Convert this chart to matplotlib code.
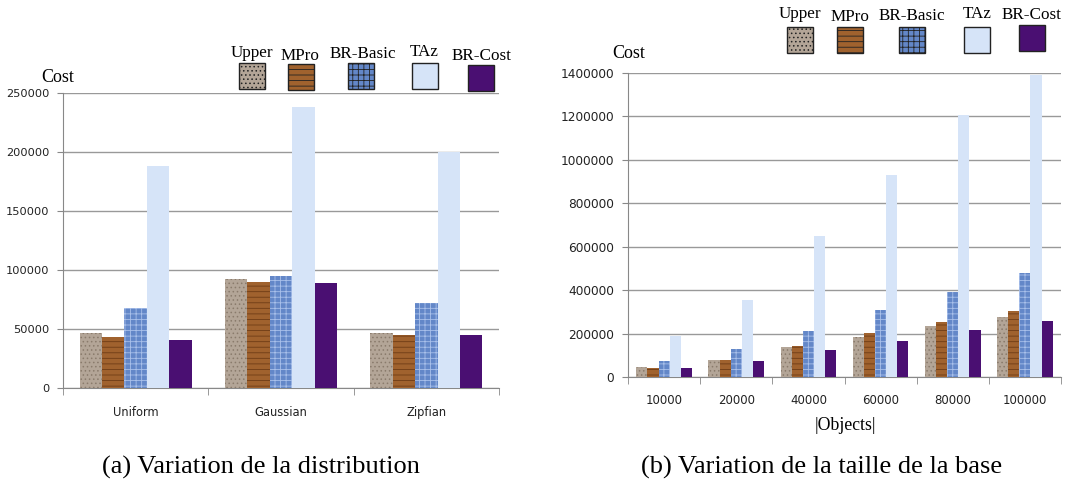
import numpy as np
import matplotlib
matplotlib.use("Agg")
import matplotlib.pyplot as plt
from matplotlib.patches import Rectangle

# ── Daten ──────────────────────────────────────────────────────────────────────
METHODS = ["Upper", "MPro", "BR-Basic", "TAz", "BR-Cost"]

DISTRIBUTIONS = ["Uniform", "Gaussian", "Zipfian"]
dist_upper   = [47000, 92000, 47000]
dist_mpro    = [43000, 90000, 45000]
dist_brbasic = [68000, 95000, 72000]
dist_taz     = [188000, 238000, 200000]
dist_brcost  = [41000, 89000, 45000]

SIZES = ["10000", "20000", "40000", "60000", "80000", "100000"]
size_upper   = [46000, 77000, 138000, 182000, 237000, 277000]
size_mpro    = [40000, 77000, 142000, 203000, 252000, 302000]
size_brbasic = [72000, 128000, 211000, 308000, 392000, 478000]
size_taz     = [188000, 354000, 649000, 931000, 1208000, 1392000]
size_brcost  = [42000, 72000, 123000, 168000, 217000, 257000]

# ── Stil ───────────────────────────────────────────────────────────────────────
STYLE = {
    "Upper":    dict(color="#b3a597", hatch="....", ec="#8a7b6c"),
    "MPro":     dict(color="#a0622e", hatch="---",  ec="#6e3c16"),
    "BR-Basic": dict(color="#6387c8", hatch="+++",  ec="#a9c0ea"),
    "TAz":      dict(color="#d6e4f8", hatch="",     ec="#d6e4f8"),
    "BR-Cost":  dict(color="#4a0f72", hatch="",     ec="#4a0f72"),
}
plt.rcParams["hatch.linewidth"] = 0.6
SERIF = "Liberation Serif"
W, H = 1079, 487


def fx(px):
    return px / W


def fy(py):
    return 1 - py / H


def grouped_bars(ax, cats, series, ymax, step, ysize):
    n = len(series)
    x = np.arange(len(cats))
    bw = 0.77 / n
    for k, (name, vals) in enumerate(zip(METHODS, series)):
        st = STYLE[name]
        ax.bar(x - 0.385 + bw * (k + 0.5), vals, width=bw, color=st["color"],
               hatch=st["hatch"], edgecolor=st["ec"], linewidth=0, zorder=3)
    ax.set_xlim(-0.5, len(cats) - 0.5)
    ax.set_ylim(0, ymax)
    ax.set_yticks(np.arange(0, ymax + 1, step))
    ax.set_yticklabels([f"{int(v)}" for v in np.arange(0, ymax + 1, step)],
                       fontsize=ysize, color="#222222")
    ax.set_xticks(x)
    ax.set_xticklabels(cats, color="#222222")
    ax.tick_params(axis="x", length=0)
    ax.set_xticks(np.arange(-0.5, len(cats)), minor=True)
    ax.tick_params(axis="x", which="minor", length=5, color="#888888")
    ax.tick_params(axis="y", length=4, color="#888888", pad=6)
    ax.grid(axis="y", color="#999999", linewidth=1.0, zorder=0)
    ax.spines[["top", "right"]].set_visible(False)
    ax.spines["left"].set_color("#888888")
    ax.spines["bottom"].set_color("#888888")


def legend(fig, boxes, texts):
    for name, (x0, y0), (tx, ty) in zip(METHODS, boxes, texts):
        st = STYLE[name]
        fig.patches.append(Rectangle((fx(x0), fy(y0 + 26)), fx(26), 26 / H,
                                     transform=fig.transFigure, facecolor=st["color"],
                                     hatch=st["hatch"], edgecolor="#222222",
                                     linewidth=1.0))
        fig.text(fx(tx), fy(ty), name, ha="center", va="center",
                 family=SERIF, fontsize=12.3)


fig = plt.figure(figsize=(W / 100, H / 100), dpi=100)

# (a) Verteilung
ax1 = fig.add_axes([fx(63), fy(388), fx(499 - 63), (388 - 93) / H])
grouped_bars(ax1, DISTRIBUTIONS,
             [dist_upper, dist_mpro, dist_brbasic, dist_taz, dist_brcost],
             250000, 50000, 8.2)
ax1.tick_params(axis="x", labelsize=8.3, pad=13)
fig.text(fx(58), fy(78), "Cost", family=SERIF, fontsize=13, ha="center", va="center")
legend(fig,
       [(239, 63), (288, 64), (348, 63), (412, 63), (468, 65)],
       [(252, 53), (300, 56), (363, 54), (424, 52), (481, 56)])

# (b) Groesse der Basis
ax2 = fig.add_axes([fx(628), fy(377), fx(1061 - 628), (377 - 73) / H])
grouped_bars(ax2, SIZES,
             [size_upper, size_mpro, size_brbasic, size_taz, size_brcost],
             1400000, 200000, 8.7)
ax2.tick_params(axis="x", labelsize=8.5, pad=12)
fig.text(fx(629), fy(54), "Cost", family=SERIF, fontsize=13, ha="center", va="center")
fig.text(fx(845), fy(425), "|Objects|", family=SERIF, fontsize=12.8,
         ha="center", va="center")
legend(fig,
       [(787, 27), (837, 27), (899, 27), (964, 27), (1019, 25)],
       [(800, 14), (850, 17), (912, 16), (977, 14), (1032, 15)])

fig.text(fx(261), fy(467), "(a) Variation de la distribution", family=SERIF,
         fontsize=19, ha="center", va="center")
fig.text(fx(822), fy(467), "(b) Variation de la taille de la base", family=SERIF,
         fontsize=19, ha="center", va="center")

fig.savefig("out.png", dpi=100)
